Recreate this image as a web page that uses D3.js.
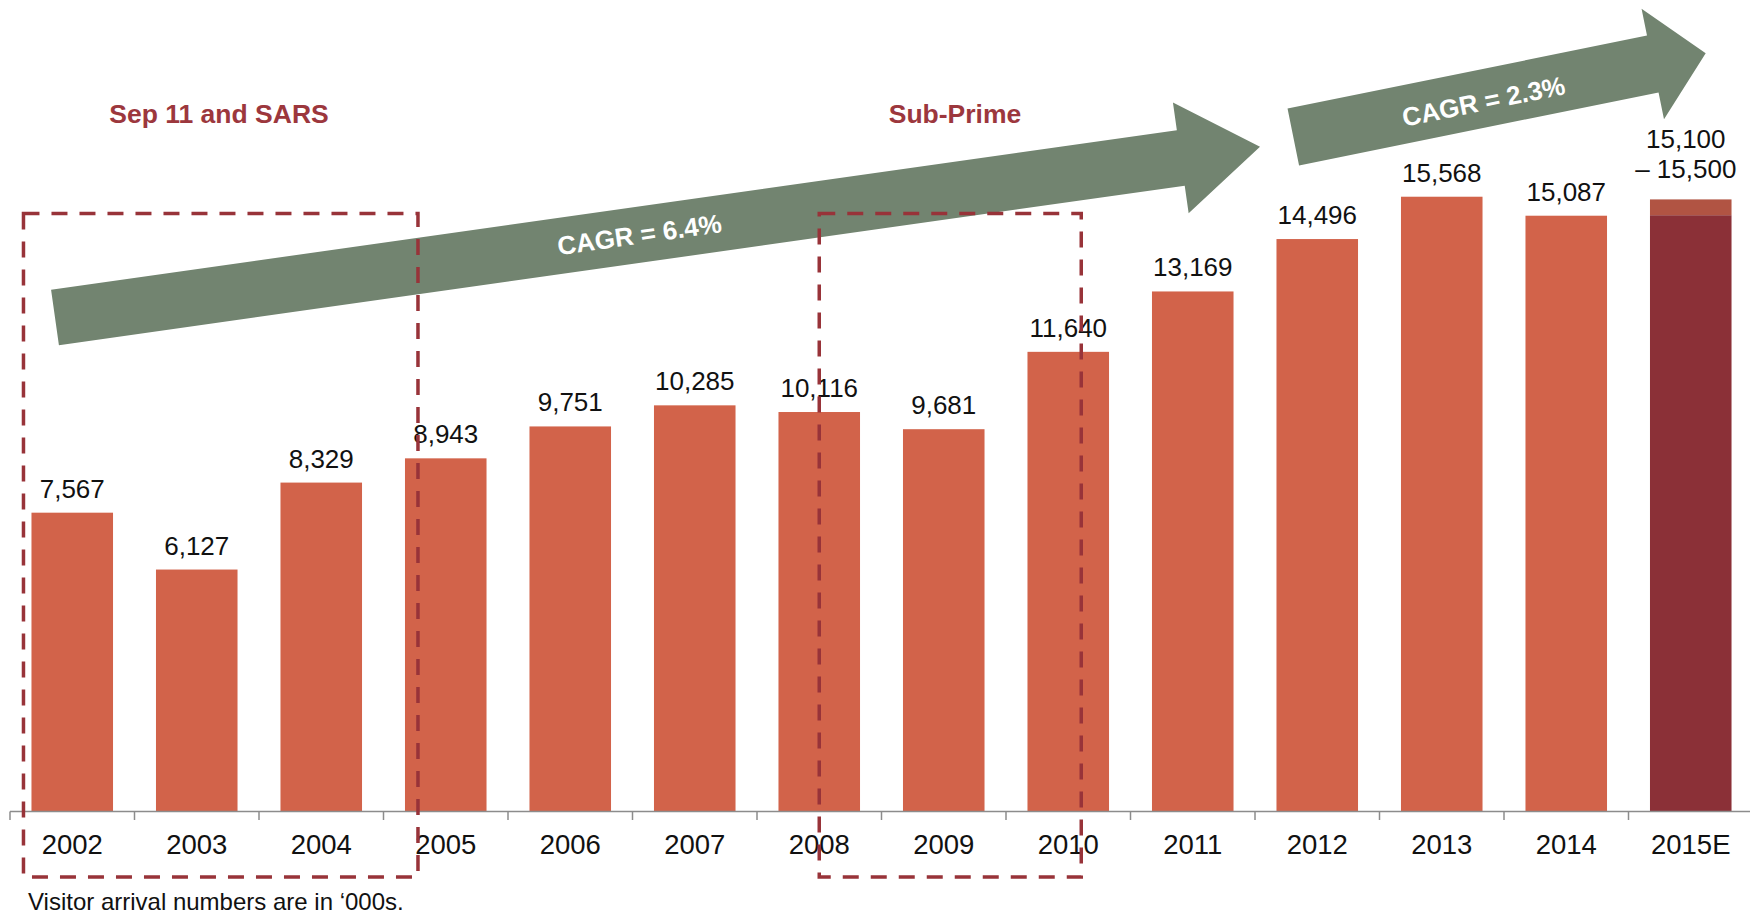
<!DOCTYPE html>
<html>
<head>
<meta charset="utf-8">
<script src="https://cdn.jsdelivr.net/npm/d3@7"></script>
<style>
  html, body { margin: 0; padding: 0; background: #fff; }
  svg { display: block; font-family: "Liberation Sans", Arial, sans-serif; }
</style>
</head>
<body>
<svg id="chart" width="1750" height="915"></svg>
<script>
// Visitor arrivals ('000s) by year
const years = ["2002","2003","2004","2005","2006","2007","2008","2009","2010","2011","2012","2013","2014","2015E"];
const arrivals = [7567, 6127, 8329, 8943, 9751, 10285, 10116, 9681, 11640, 13169, 14496, 15568, 15087, 15100];
// 2015 estimate range (low – high)
const estimateLow = 15100;
const estimateHigh = 15500;
const valueLabels = ["7,567","6,127","8,329","8,943","9,751","10,285","10,116","9,681","11,640","13,169","14,496","15,568","15,087"];
const estimateLabels = ["15,100", "\u2013 15,500"];
const growthLabels = ["CAGR = 6.4%", "CAGR = 2.3%"];
const eventLabels = ["Sep 11 and SARS", "Sub-Prime"];
const footnote = "Visitor arrival numbers are in \u2018000s.";

const W = 1750, H = 915;
const svg = d3.select("#chart");

const BAR = "#d2634a", EST_DARK = "#8b3037", EST_TOP = "#b15443";
const GREEN = "#728470", MAROON = "#983339", LABEL_RED = "#9c373d";

const pad = 0.345;
const x = d3.scaleBand().domain(years).range([10, 1753]).paddingInner(pad).paddingOuter(pad / 2);
const baseY = 811.5;
const y = d3.scaleLinear().domain([0, 16000]).range([baseY, baseY - 16000 * 0.03949]);
const step = x.step(), bw = x.bandwidth();

// Bars
const gBars = svg.append("g");
gBars.selectAll("rect.bar")
  .data(years.map((d, i) => ({ year: d, v: arrivals[i], est: d === "2015E" })))
  .join("rect")
  .attr("class", "bar")
  .attr("x", d => x(d.year))
  .attr("width", bw)
  .attr("y", d => y(d.v))
  .attr("height", d => y(0) - y(d.v))
  .attr("fill", d => d.est ? EST_DARK : BAR);

// Estimate range on top of the 2015E bar
gBars.append("rect")
  .attr("x", x("2015E"))
  .attr("width", bw)
  .attr("y", y(estimateHigh))
  .attr("height", y(estimateLow) - y(estimateHigh))
  .attr("fill", EST_TOP);

// Value labels
svg.append("g").selectAll("text")
  .data(valueLabels)
  .join("text")
  .attr("x", (d, i) => x(years[i]) + bw / 2)
  .attr("y", (d, i) => y(arrivals[i]) - 15)
  .attr("text-anchor", "middle")
  .attr("font-size", 26)
  .attr("fill", "#111")
  .text(d => d);

const estG = svg.append("g");
estimateLabels.forEach((t, i) => {
  estG.append("text")
    .attr("x", x("2015E") + bw / 2 - 5)
    .attr("y", y(estimateHigh) - 21 - (estimateLabels.length - 1 - i) * 30.5)
    .attr("text-anchor", "middle")
    .attr("font-size", 26)
    .attr("fill", "#111")
    .text(t);
});

// Axis: baseline with ticks at category boundaries
const axisG = svg.append("g");
axisG.append("line")
  .attr("x1", 10).attr("x2", W)
  .attr("y1", baseY).attr("y2", baseY)
  .attr("stroke", "#8c8c8c").attr("stroke-width", 1.5);
axisG.selectAll("line.tick")
  .data(years)
  .join("line")
  .attr("class", "tick")
  .attr("x1", d => x(d) - step * pad / 2)
  .attr("x2", d => x(d) - step * pad / 2)
  .attr("y1", baseY).attr("y2", baseY + 8.5)
  .attr("stroke", "#8c8c8c").attr("stroke-width", 1.5);
axisG.selectAll("text")
  .data(years)
  .join("text")
  .attr("x", d => x(d) + bw / 2)
  .attr("y", 853.5)
  .attr("text-anchor", "middle")
  .attr("font-size", 27.5)
  .attr("fill", "#111")
  .text(d => d);

// Growth arrows: tail centre, tip, shaft half-width, head half-width, head length
function arrow(tail, tip, shaftHalf, headHalf, headLen, label, along, off) {
  const dx = tip[0] - tail[0], dy = tip[1] - tail[1];
  const len = Math.hypot(dx, dy);
  const ang = Math.atan2(dy, dx) * 180 / Math.PI;
  const b = len - headLen;
  const pts = [[0, -shaftHalf], [b, -shaftHalf], [b, -headHalf], [len, 0], [b, headHalf], [b, shaftHalf], [0, shaftHalf]];
  const g = svg.append("g").attr("transform", `translate(${tail[0]},${tail[1]}) rotate(${ang})`);
  g.append("path").attr("d", d3.line()(pts) + "Z").attr("fill", GREEN);
  g.append("text")
    .attr("x", len * along).attr("y", off)
    .attr("text-anchor", "middle")
    .attr("dominant-baseline", "central")
    .attr("font-size", 26).attr("font-weight", "bold")
    .attr("fill", "#fff")
    .text(label);
}
arrow([55, 317.5], [1260, 146.7], 28, 56, 80, growthLabels[0], 0.485, 0);
arrow([1293.3, 137], [1705.7, 53.3], 29, 56.4, 54, growthLabels[1], 0.46, 3);

// Event boxes (dashed) and titles
const boxes = [
  { x0: x("2002") - 8, x1: x("2005") + 13, label: eventLabels[0], lx: 219 },
  { x0: x("2008") + bw / 2, x1: x("2010") + bw / 2 + 13, label: eventLabels[1], lx: 955 }
];
const boxG = svg.append("g");
boxes.forEach(bx => {
  boxG.append("rect")
    .attr("x", bx.x0).attr("y", 213.5)
    .attr("width", bx.x1 - bx.x0).attr("height", 877 - 213.5)
    .attr("fill", "none")
    .attr("stroke", MAROON).attr("stroke-width", 3.5)
    .attr("stroke-dasharray", "16,12");
  svg.append("text")
    .attr("x", bx.lx).attr("y", 123)
    .attr("text-anchor", "middle")
    .attr("font-size", 26.5).attr("font-weight", "bold")
    .attr("fill", LABEL_RED)
    .text(bx.label);
});

// Footnote
svg.append("text")
  .attr("x", 28).attr("y", 910)
  .attr("font-size", 24)
  .attr("fill", "#111")
  .text(footnote);
</script>
</body>
</html>
